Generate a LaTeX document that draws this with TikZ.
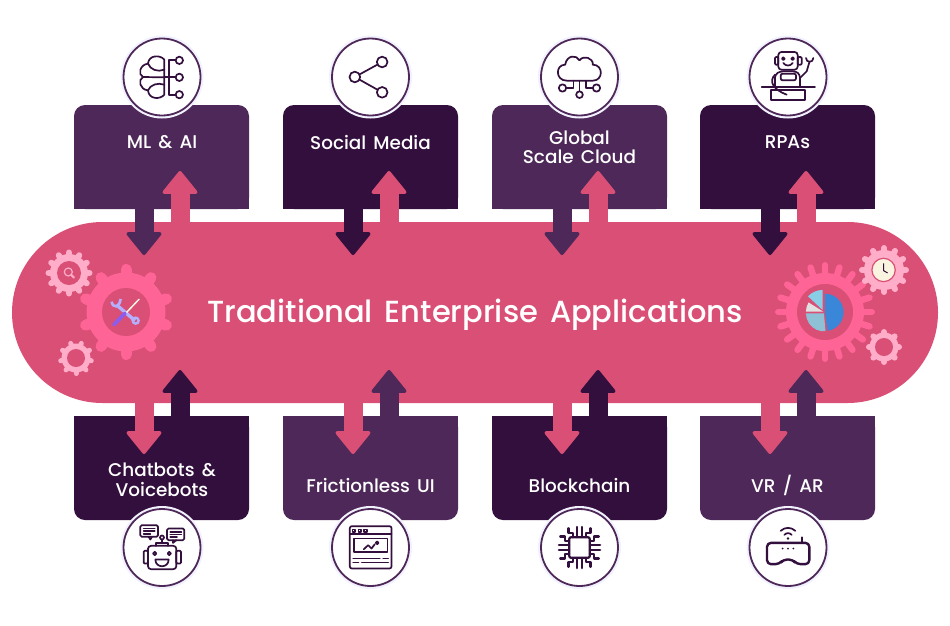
\documentclass[tikz,border=0pt]{standalone}
\usepackage{fontspec}
\setmainfont[WordSpace=1.5,UprightFont={* Medium}]{Poppins}
\usetikzlibrary{arrows.meta,calc}
\definecolor{pillpink}{HTML}{D94F75}
\definecolor{cogpink}{HTML}{FF6496}
\definecolor{cogpale}{HTML}{FFADC9}
\definecolor{plumA}{HTML}{4D2858}
\definecolor{plumB}{HTML}{330F3D}
\definecolor{wrenchblue}{HTML}{B4B0FF}
\definecolor{handleviolet}{HTML}{8A5CF0}
\definecolor{cream}{HTML}{F8F4DF}
\definecolor{pieblue}{HTML}{3A86D8}
\definecolor{pieteal}{HTML}{8FC1D6}
\definecolor{piegrey}{HTML}{E0E0E0}
\definecolor{piesky}{HTML}{88CEE6}
\tikzset{
  boxbase/.style={minimum width=175pt,minimum height=104pt,rounded corners=11pt,inner sep=0pt},
  boxlabel/.style={text=white,align=center,font=\fontsize{18.4}{19.5}\selectfont},
  iconring/.style={circle,draw=plumA,line width=1.8pt,fill=white,minimum size=77pt,inner sep=0pt,
    preaction={draw=blue!5,line width=6pt}},
  iconline/.style={draw=plumB,line width=1.7pt,line join=round,line cap=round},
  flowarrow/.style={line width=19pt,-{Triangle[width=38pt,length=24pt,line width=3.5pt,round]}},
}
% cog: centre, body radius, outer radius, tooth width, teeth, colour
\newcommand{\cog}[6]{%
  \fill[#6] (#1) circle[radius=#2];
  \foreach \k in {1,...,#5}{%
    \draw[#6,line width=#4pt,line cap=round] (#1) ++({90+360*\k/#5}:#2-1) -- ++({90+360*\k/#5}:#3-#2+1-#4/2);}%
}
\begin{document}
\begin{tikzpicture}[x=1pt,y=-1pt]
  \useasboundingbox (0,0) rectangle (950,625);
  % centre band
  \node[fill=pillpink,rounded corners=90.5pt,minimum width=926pt,minimum height=181pt,inner sep=0pt] (band) at (475,312.5) {};
  % top boxes
  \node[boxbase,fill=plumA] (mlbox) at (161.5,157) {};
  \node[boxbase,fill=plumB] (socialbox) at (370.5,157) {};
  \node[boxbase,fill=plumA] (cloudbox) at (579.5,157) {};
  \node[boxbase,fill=plumB] (rpabox) at (787.5,157) {};
  \fill[plumA] (mlbox.south west) rectangle ([yshift=15pt]mlbox.south east);
  \fill[plumB] (socialbox.south west) rectangle ([yshift=15pt]socialbox.south east);
  \fill[plumA] (cloudbox.south west) rectangle ([yshift=15pt]cloudbox.south east);
  \fill[plumB] (rpabox.south west) rectangle ([yshift=15pt]rpabox.south east);
  % bottom boxes
  \node[boxbase,fill=plumB] (chatbox) at (161.5,468) {};
  \node[boxbase,fill=plumA] (uibox) at (370.5,468) {};
  \node[boxbase,fill=plumB] (chainbox) at (579.5,468) {};
  \node[boxbase,fill=plumA] (vrbox) at (787.5,468) {};
  \fill[plumB] (chatbox.north west) rectangle ([yshift=-15pt]chatbox.north east);
  \fill[plumA] (uibox.north west) rectangle ([yshift=-15pt]uibox.north east);
  \fill[plumB] (chainbox.north west) rectangle ([yshift=-15pt]chainbox.north east);
  \fill[plumA] (vrbox.north west) rectangle ([yshift=-15pt]vrbox.north east);
  % labels
  \node[boxlabel] (mltext) at (162,142.5) {ML \& AI};
  \node[boxlabel] (socialtext) at (370.5,142.5) {Social Media};
  \node[boxlabel] (cloudtext) at (579.5,147.5) {Global\\Scale Cloud};
  \node[boxlabel] (rpatext) at (787.5,142.5) {RPAs};
  \node[boxlabel] (chattext) at (162,480) {Chatbots \&\\Voicebots};
  \node[boxlabel] (uitext) at (370.5,485) {Frictionless UI};
  \node[boxlabel] (chaintext) at (579.5,485) {Blockchain};
  \node[boxlabel] (vrtext) at (787.5,485) {VR / AR};
  \node[text=white,font=\fontsize{30.5}{36}\selectfont] (title) at (475,315) {Traditional Enterprise Applications};
  % arrow ends
  \coordinate (mldown) at (144,255); \coordinate (mlup) at (180,171);
  \coordinate (socialdown) at (353,255); \coordinate (socialup) at (389,171);
  \coordinate (clouddown) at (562,255); \coordinate (cloudup) at (598,171);
  \coordinate (rpadown) at (770,255); \coordinate (rpaup) at (806,171);
  \coordinate (chatdown) at (144,454); \coordinate (chatup) at (180,370);
  \coordinate (uidown) at (353,454); \coordinate (uiup) at (389,370);
  \coordinate (chaindown) at (562,454); \coordinate (chainup) at (598,370);
  \coordinate (vrdown) at (770,454); \coordinate (vrup) at (806,370);
  % top arrows
  \draw[flowarrow,plumA] (mlbox.south -| mldown) -- (mldown);
  \draw[flowarrow,pillpink] (band.north -| mlup) -- (mlup);
  \draw[flowarrow,plumB] (socialbox.south -| socialdown) -- (socialdown);
  \draw[flowarrow,pillpink] (band.north -| socialup) -- (socialup);
  \draw[flowarrow,plumA] (cloudbox.south -| clouddown) -- (clouddown);
  \draw[flowarrow,pillpink] (band.north -| cloudup) -- (cloudup);
  \draw[flowarrow,plumB] (rpabox.south -| rpadown) -- (rpadown);
  \draw[flowarrow,pillpink] (band.north -| rpaup) -- (rpaup);
  % bottom arrows
  \draw[flowarrow,pillpink] (band.south -| chatdown) -- (chatdown);
  \draw[flowarrow,plumB] (chatbox.north -| chatup) -- (chatup);
  \draw[flowarrow,pillpink] (band.south -| uidown) -- (uidown);
  \draw[flowarrow,plumA] (uibox.north -| uiup) -- (uiup);
  \draw[flowarrow,pillpink] (band.south -| chaindown) -- (chaindown);
  \draw[flowarrow,plumB] (chainbox.north -| chainup) -- (chainup);
  \draw[flowarrow,pillpink] (band.south -| vrdown) -- (vrdown);
  \draw[flowarrow,plumA] (vrbox.north -| vrup) -- (vrup);
  % icon rings
  \node[iconring] (mlicon) at (162,77) {};
  \node[iconring] (socialicon) at (370.5,77) {};
  \node[iconring] (cloudicon) at (579.5,77) {};
  \node[iconring] (rpaicon) at (788,77) {};
  \node[iconring] (chaticon) at (162,547.5) {};
  \node[iconring] (uiicon) at (370.5,547.5) {};
  \node[iconring] (chainicon) at (579.5,547.5) {};
  \node[iconring] (vricon) at (788,547.5) {};
  % brain
  \begin{scope}[shift={(mlicon.center)},x=0.3333pt,y=-0.3333pt,shift={(-185,-172)}]
    \draw[iconline] (192,120) .. controls (180,105) and (145,105) .. (143,132) .. controls (118,135) and (112,165) .. (128,172) .. controls (112,180) and (118,210) .. (143,212) .. controls (145,240) and (180,240) .. (192,225) -- cycle;
    \draw[iconline] (192,150) .. controls (172,158) and (150,150) .. (143,132);
    \draw[iconline] (192,173) -- (128,172);
    \draw[iconline] (192,195) .. controls (172,188) and (150,195) .. (143,212);
    \draw[iconline] (226,122) -- (205,122) -- (205,225) -- (226,225) (192,173) -- (226,173);
    \draw[iconline] (237,122) circle[radius=11] (237,173) circle[radius=11] (237,225) circle[radius=11];
  \end{scope}
  % share
  \begin{scope}[shift={(socialicon.center)},x=0.3333pt,y=-0.3333pt,shift={(-812,-172)}]
    \draw[iconline] (847,127) -- (765,172) -- (847,218);
    \draw[iconline,fill=white] (765,172) circle[radius=16] (847,127) circle[radius=16] (847,218) circle[radius=16];
  \end{scope}
  % cloud
  \begin{scope}[shift={(cloudicon.center)},x=0.3333pt,y=-0.3333pt,shift={(-178,-172)}]
    \draw[iconline] (140,183) .. controls (105,183) and (105,135) .. (135,135) .. controls (140,105) and (170,105) .. (178,122) .. controls (190,105) and (220,115) .. (218,135) .. controls (250,135) and (250,183) .. (218,183) -- cycle;
    \draw[iconline] (178,183) -- (178,215) (160,183) -- (160,205) -- (139,205) (197,183) -- (197,205) -- (218,205);
    \draw[iconline] (178,225) circle[radius=10] (127,205) circle[radius=11] (229,205) circle[radius=11];
  \end{scope}
  % robot at desk
  \begin{scope}[shift={(rpaicon.center)},x=0.3333pt,y=-0.3333pt,shift={(-804,-172)}]
    \draw[iconline,rounded corners=3pt] (775,97) rectangle (833,150);
    \draw[iconline,rounded corners=1pt] (765,112) rectangle (775,135) (833,112) rectangle (845,135);
    \draw[iconline] (790,117) circle[radius=4] (818,117) circle[radius=4];
    \draw[iconline] (790,130) .. controls (797,140) and (811,140) .. (818,130);
    \draw[iconline,rounded corners=3pt] (765,202) -- (765,165) -- (780,155) -- (828,155) -- (840,165) -- (840,202);
    \draw[iconline,rounded corners=2pt] (782,162) rectangle (828,182);
    \draw[iconline] (840,175) -- (860,155) -- (868,128) (858,115) .. controls (858,130) and (880,130) .. (880,115);
    \draw[iconline] (725,202) -- (885,202);
    \draw[iconline] (752,212) rectangle (855,242);
    \draw[iconline] (765,165) .. controls (745,185) and (760,210) .. (800,225);
  \end{scope}
  % chat robot
  \begin{scope}[shift={(chaticon.center)},x=0.3333pt,y=-0.3333pt,shift={(-185,-142)}]
    \draw[iconline,rounded corners=3pt] (143,137) rectangle (228,207);
    \draw[iconline,rounded corners=1pt] (130,152) rectangle (143,190) (228,152) rectangle (242,190);
    \draw[iconline] (163,160) circle[radius=5] (207,160) circle[radius=5];
    \draw[iconline] (165,178) -- (205,178) .. controls (205,205) and (165,205) .. (165,178) -- cycle;
    \draw[iconline] (168,137) -- (168,128) -- (203,128) -- (203,137) (185,128) -- (185,118);
    \draw[iconline] (185,112) circle[radius=6];
    \draw[iconline,rounded corners=1.5pt] (120,75) rectangle (173,110);
    \draw[iconline] (145,110) -- (150,118) -- (155,110);
    \draw[iconline] (130,85) -- (163,85) (130,93) -- (163,93) (130,101) -- (150,101);
    \draw[iconline,rounded corners=1.5pt] (200,85) rectangle (252,120);
    \draw[iconline] (218,120) -- (218,128) -- (228,120);
    \draw[iconline] (210,95) -- (243,95) (210,103) -- (243,103) (210,111) -- (230,111);
  \end{scope}
  % web window
  \begin{scope}[shift={(uiicon.center)},x=0.3333pt,y=-0.3333pt,shift={(-812,-142)}]
    \draw[iconline,rounded corners=2pt] (750,78) rectangle (875,205);
    \draw[iconline] (750,102) -- (875,102);
    \draw[iconline] (758,88) rectangle (766,96) (776,88) rectangle (784,96) (793,88) rectangle (801,96);
    \draw[iconline] (762,115) rectangle (863,155);
    \draw[iconline] (792,147) -- (805,135) -- (815,145) -- (825,132);
    \draw[iconline] (832,128) circle[radius=4];
    \draw[iconline] (760,175) -- (840,175) (850,175) -- (865,175) (760,187) -- (776,187) (786,187) -- (865,187);
  \end{scope}
  % chip
  \begin{scope}[shift={(chainicon.center)},x=0.3333pt,y=-0.3333pt]
    \draw[iconline,line width=2.2pt,rounded corners=2pt] (-31,-31) rectangle (31,31);
    \foreach \r in {0,90,180,270}{
      \begin{scope}[rotate=\r]
        \draw[iconline,line width=2.2pt] (-7,-31) -- (-7,-62) (7,-31) -- (7,-62);
        \draw[iconline,line width=2.2pt] (-20,-31) -- (-20,-44) -- (-33,-44) -- (-33,-58) (20,-31) -- (20,-44) -- (33,-44) -- (33,-58);
      \end{scope}}
  \end{scope}
  % headset
  \begin{scope}[shift={(vricon.center)},x=0.3333pt,y=-0.3333pt,shift={(-804,-142)}]
    \draw[iconline,line width=2.4pt,rounded corners=4pt] (741,128) -- (868,128) -- (868,192) -- (830,192) -- (818,178) -- (790,178) -- (778,192) -- (741,192) -- cycle;
    \draw[iconline,line width=2.2pt] (847,128) -- (847,112);
    \fill[plumB] (788,145) circle[radius=3] (804,145) circle[radius=3] (820,145) circle[radius=3] (804,115) circle[radius=4];
    \draw[iconline] (793,104) .. controls (800,97) and (808,97) .. (815,104) (782,92) .. controls (795,80) and (813,80) .. (826,92);
  \end{scope}
  % left cogs
  \coordinate (bigleft) at (126,312);
  \cog{bigleft}{39.5}{48}{11}{10}{cogpink}
  \fill[pillpink] (bigleft) circle[radius=24];
  \coordinate (searchcog) at (69,273);
  \cog{searchcog}{19}{23.5}{6}{12}{cogpale}
  \fill[pillpink] (searchcog) circle[radius=12];
  \coordinate (ringleft) at (76,358);
  \cog{ringleft}{14.5}{18}{5}{9}{cogpale}
  \fill[pillpink] (ringleft) circle[radius=9];
  % tools and lens
  \begin{scope}[x=0.3333pt,y=-0.3333pt,shift={(0,600)}]
    \draw[cogpale,line width=1.2pt] (205,216) circle[radius=12];
    \draw[cogpale,line width=2pt,line cap=round] (214,225) -- (222,233);
    \draw[wrenchblue,line width=3.4pt] (350,315) -- (405,362);
    \draw[wrenchblue,line width=2.4pt] (407,362) circle[radius=9];
    \draw[wrenchblue,line width=2.6pt] (335,305) .. controls (338,325) and (358,325) .. (362,297);
    \draw[cream,line width=1.5pt,line cap=round] (380,337) -- (417,298);
    \draw[handleviolet,line width=3.6pt,line cap=round] (342,374) -- (375,340);
  \end{scope}
  % right cogs
  \coordinate (bigright) at (825,312);
  \cog{bigright}{39}{50}{6.5}{20}{cogpink}
  \fill[pillpink] (bigright) circle[radius=28];
  \coordinate (clockcog) at (884,270);
  \cog{clockcog}{20}{25}{6}{12}{cogpale}
  \coordinate (ringright) at (884,347);
  \cog{ringright}{14.5}{18}{6}{8}{cogpale}
  \fill[pillpink] (ringright) circle[radius=9];
  % pie and clock
  \begin{scope}[x=0.3333pt,y=-0.3333pt,shift={(2220,600)}]
    \fill[pieblue] (255,337) -- ++(-90:56) arc[start angle=-90,end angle=82,radius=56] -- cycle;
    \fill[pieteal] (252,340) -- ++(85:54) arc[start angle=85,end angle=180,radius=54] -- cycle;
    \fill[piegrey] (250,335) -- ++(180:52) arc[start angle=180,end angle=212,radius=52] -- cycle;
    \fill[piesky] (248,330) -- ++(223:60) arc[start angle=223,end angle=270,radius=60] -- cycle;
    \fill[cream,draw=pillpink,line width=1.2pt] (431,210) circle[radius=35];
    \draw[plumB,line width=1pt] (431,190) -- (431,212) -- (443,219);
  \end{scope}
\end{tikzpicture}
\end{document}
